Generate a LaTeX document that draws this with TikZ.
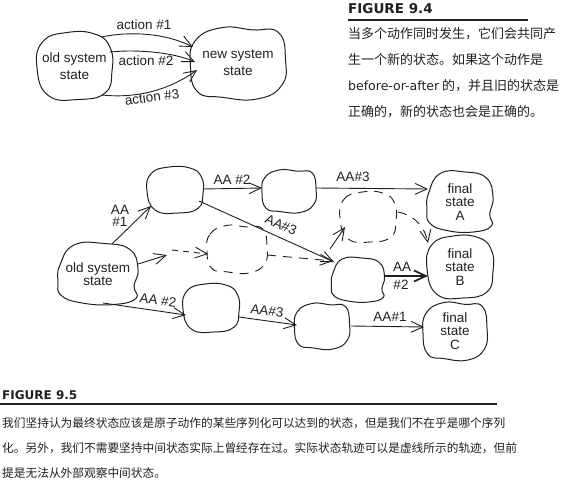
\documentclass[tikz,border=0pt]{standalone}
\usepackage{fontspec}
\setmainfont{Liberation Sans}
\newfontfamily\cjk{Noto Sans CJK SC}
\newfontfamily\dvs{DejaVu Sans}
\usetikzlibrary{arrows.meta,calc}
\definecolor{ink}{HTML}{231F20}
\newcommand\blobi[4]{\begin{scope}[shift={(#1)},xscale=#2,yscale=#3]
\draw[#4] plot[smooth cycle,tension=0.8] coordinates{(-1,0.05) (-0.85,-0.72) (-0.2,-1) (0.55,-0.95) (0.95,-0.55) (1,0.15) (0.82,0.8) (0.1,1) (-0.7,0.88)};
\end{scope}}
\newcommand\blobii[4]{\begin{scope}[shift={(#1)},xscale=#2,yscale=#3]
\draw[#4] plot[smooth cycle,tension=0.8] coordinates{(-1,0.1) (-0.9,-0.62) (-0.35,-0.98) (0.3,-0.92) (0.85,-0.85) (1,-0.1) (0.92,0.62) (0.4,1) (-0.35,0.95) (-0.85,0.8)};
\end{scope}}
\newcommand\blobiii[4]{\begin{scope}[shift={(#1)},xscale=#2,yscale=#3]
\draw[#4] plot[smooth cycle,tension=0.8] coordinates{(-0.95,-0.3) (-0.6,-0.95) (0.15,-1) (0.8,-0.8) (1,-0.15) (0.9,0.4) (0.95,0.8) (0.4,1) (-0.4,0.95) (-0.92,0.7) (-1,0.25)};
\end{scope}}
\begin{document}
\begin{tikzpicture}[x=1pt,y=-1pt,
  every node/.style={text=ink},
  arr/.style={-{Straight Barb[length=12pt,width=11pt]}, line width=0.9pt, draw=ink},
  bl/.style={line width=1pt, draw=ink},
  db/.style={line width=0.9pt, draw=ink, dash pattern=on 9pt off 7pt},
  st/.style={font=\fontsize{13.5}{13.3}\selectfont, align=center, inner sep=0pt},
  st4/.style={font=\fontsize{13.5}{17}\selectfont, align=center, inner sep=0pt},
  lb/.style={font=\fontsize{13.5}{11.5}\selectfont, align=center, inner sep=0pt},
  capr/.style={anchor=base west, inner sep=0pt, font=\cjk\fontsize{13}{13}\selectfont},
  capb/.style={anchor=base west, inner sep=0pt, font=\cjk\fontsize{11.7}{11.7}\selectfont}]
\useasboundingbox (0,0) rectangle (580,484);

% ---------- Figure 9.4 ----------
\node[st4] (old1) at (74.5,66) {old system\\state};
\node[st4] (new1) at (238,63) {new system\\state};
\blobi{old1}{37.5}{33.5}{bl}
\blobii{new1}{47.5}{36}{bl}
\draw[arr] ($(old1)+(27,-29)$) .. controls (130,31) and (165,33) .. ($(new1)+(-45,-16)$);
\draw[arr] ($(old1)+(35.5,-14)$) .. controls (140,49) and (175,53) .. ($(new1)+(-43,-1)$);
\draw[arr] ($(old1)+(27.5,29)$) .. controls (140,99) and (172,88) .. ($(new1)+(-41,7)$);
\node[lb] (la1) at (144,25) {action \#1};
\node[lb] (la2) at (146,61) {action \#2};
\node[lb, rotate=8] (la3) at (152,97) {action \#3};

\node[capr, font=\dvs\bfseries\fontsize{13.5}{13.5}\selectfont] (h94) at (348,14) {FIGURE 9.4};
\draw[line width=2pt, ink] (348,19.8) -- (528,19.8);
\node[capr] (r1) at (348,39) {当多个动作同时发生，它们会共同产};
\node[capr] (r2) at (348,65) {生一个新的状态。如果这个动作是};
\node[capr] (r3) at (348,91) {{\dvs\fontsize{12.5}{12.5}\selectfont before-or-after} 的，并且旧的状态是};
\node[capr] (r4) at (348,116) {正确的，新的状态也会是正确的。};

% ---------- Figure 9.5 ----------
\node[st] (O2) at (98,274) {old system\\state};
\node (A1) at (175,190) {};
\node (A2) at (289,191) {};
\node[st] (FA) at (460,202) {final\\state\\A};
\node[st] (FB) at (460,267) {final\\state\\B};
\node[st] (FC) at (455,331) {final\\state\\C};
\node (B1) at (358,280) {};
\node (C1) at (211,308) {};
\node (C2) at (322,326) {};
\node (D1) at (237,249) {};
\node (D2) at (368,217) {};

\blobiii{O2}{40}{30.5}{bl}
\blobi{A1}{28}{23}{bl}
\blobii{A2}{27}{21.5}{bl}
\blobiii{FA}{33}{30}{bl}
\blobi{FB}{33}{31}{bl}
\blobii{FC}{32}{29}{bl}
\blobiii{B1}{26.5}{22}{bl}
\blobi{C1}{28}{24}{bl}
\blobii{C2}{27.5}{23}{bl}
\blobii{D1}{30}{24}{db}
\blobi{D2}{28}{25}{db}

\draw[arr] ($(O2)+(14,-30)$) -- ($(A1)+(-24,16)$);
\draw[arr] ($(A1)+(28,-1)$) -- ($(A2)+(-27,-3)$);
\draw[arr] ($(A1)+(24,11)$) -- ($(B1)+(-24,-18)$);
\draw[arr] ($(A2)+(27,-3)$) -- ($(FA)+(-32,-13)$);
\draw[arr, line width=1.7pt] ($(B1)+(27,-4)$) -- ($(FB)+(-32,9)$);
\draw[arr] ($(O2)+(5,29)$) -- ($(C1)+(-25,7)$);
\draw[arr] ($(C1)+(28,9)$) -- ($(C2)+(-25,-1)$);
\draw[arr] ($(C2)+(29,0)$) -- ($(FC)+(-31,-4)$);

\coordinate (m1) at (167,255);
\draw[arr] ($(O2)+(40,-10)$) -- (m1);
\draw[arr, dash pattern=on 6pt off 5pt] ($(m1)+(5,-5)$) -- ($(D1)+(-29,5)$);
\draw[arr, dash pattern=on 9pt off 7pt] ($(D1)+(30,6)$) -- ($(B1)+(-25,-19)$);
\draw[arr] ($(B1)+(-28,-31)$) -- ($(D2)+(-23,10)$);
\draw[arr, dash pattern=on 9pt off 7pt] ($(D2)+(30,-5)$) .. controls (415,215) and (425,228) .. ($(FB)+(-32,-24)$);

\node[lb] (l1) at (120,216) {AA\\\#1};
\node[lb] (l2) at (232,180) {AA \#2};
\node[lb, rotate=-24] (l3) at (281,225) {AA\#3};
\node[lb] (l4) at (353,177) {AA\#3};
\node[lb] (l5) at (402,267) {AA};
\node[lb] (l6) at (401,285) {\#2};
\node[lb, rotate=-8] (l7) at (158,300) {AA \#2};
\node[lb, rotate=-8] (l8) at (267,311) {AA\#3};
\node[lb] (l9) at (390,317) {AA\#1};

\node[capb, font=\dvs\bfseries\fontsize{12}{12}\selectfont] (h95) at (2,399) {FIGURE 9.5};
\draw[line width=2.3pt, ink] (0,404) -- (497,404);
\node[capb] (b1) at (2,427) {我们坚持认为最终状态应该是原子动作的某些序列化可以达到的状态，但是我们不在乎是哪个序列};
\node[capb] (b2) at (2,452) {化。另外，我们不需要坚持中间状态实际上曾经存在过。实际状态轨迹可以是虚线所示的轨迹，但前};
\node[capb] (b3) at (2,477) {提是无法从外部观察中间状态。};
\end{tikzpicture}
\end{document}
